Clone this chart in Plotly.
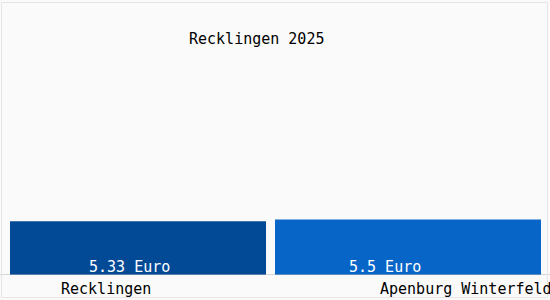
import plotly.graph_objects as go

categories = ["Recklingen", "Apenburg Winterfeld"]
values = [5.33, 5.5]
value_labels = ["5.33 Euro", "5.5 Euro"]
bar_colors = ["#034a96", "#0865c8"]
title_text = "Recklingen 2025"

FONT = "DejaVu Sans Mono"
W, H = 550, 300
L, R, T, B = 3, 7, 25, 25
pw = W - L - R

fig = go.Figure()
fig.add_trace(go.Bar(
    x=list(range(len(categories))), y=values,
    marker=dict(color=bar_colors, line=dict(width=0)),
    width=[256 / 270, 266 / 270], hoverinfo="skip",
))

annotations = []
label_shift = [-79, -30]
value_shift = [-8.5, -23]
for i, (c, v, vl) in enumerate(zip(categories, values, value_labels)):
    annotations.append(dict(
        x=i, y=0, xref="x", yref="y", text=vl, showarrow=False,
        xanchor="center", yanchor="bottom", xshift=value_shift[i], yshift=-3,
        font=dict(family=FONT, size=15, color="white"),
    ))
    annotations.append(dict(
        x=i, y=0, xref="x", yref="y", text=c, showarrow=False,
        xanchor="left", yanchor="top", xshift=label_shift[i], yshift=-3,
        font=dict(family=FONT, size=15, color="black"),
    ))
annotations.append(dict(
    x=(256.5 - L) / pw, y=1 - (39 - T) / (H - T - B), xref="paper", yref="paper",
    text=title_text, showarrow=False, xanchor="center", yanchor="middle",
    font=dict(family=FONT, size=15, color="black"),
))

shapes = [
    dict(type="line", xref="paper", yref="y", x0=-L / pw, x1=(W - L) / pw, y0=0, y1=0,
         line=dict(color="#b4b4b4", width=1)),
    dict(type="rect", xref="paper", yref="paper",
         x0=(1.5 - L) / pw, x1=(547.5 - L) / pw,
         y0=-(297.5 - (H - B)) / (H - T - B), y1=1 + (T - 2.5) / (H - T - B),
         line=dict(color="#e6e6e6", width=1)),
]

fig.update_layout(
    width=W, height=H,
    margin=dict(l=L, r=R, t=T, b=B, pad=0),
    paper_bgcolor="#fafafa", plot_bgcolor="#fafafa",
    showlegend=False,
    xaxis=dict(range=[-0.5, 1.5], showticklabels=False, showgrid=False, zeroline=False,
               showline=False, fixedrange=True),
    yaxis=dict(range=[0, 250 / 10.1], showticklabels=False, showgrid=False, zeroline=False,
               showline=False, fixedrange=True),
    annotations=annotations, shapes=shapes,
    font=dict(family=FONT),
)

fig.write_html("out.html", config={"displayModeBar": False})
